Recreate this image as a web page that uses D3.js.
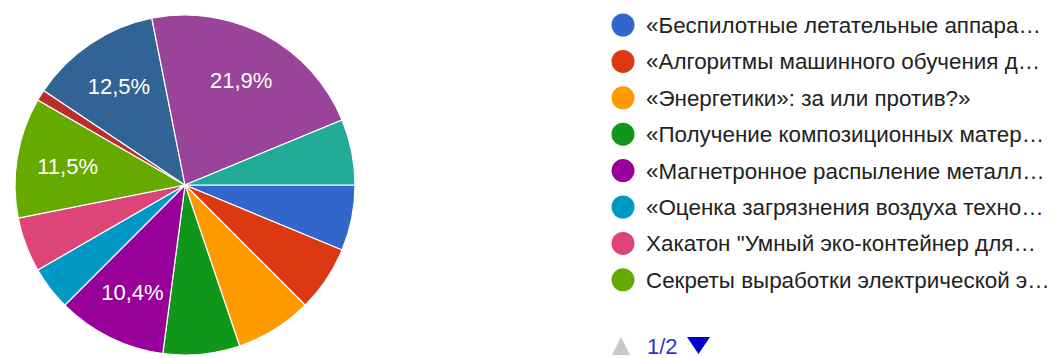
<!DOCTYPE html>
<html>
<head>
<meta charset="utf-8">
<script src="https://cdn.jsdelivr.net/npm/d3@7"></script>
<style>
  html, body { margin: 0; padding: 0; background: #fff; }
  svg { display: block; font-family: "Liberation Sans", Arial, sans-serif; }
</style>
</head>
<body>
<svg id="chart" width="1059" height="358"></svg>
<script>
// Answer options (legend page 1 shows the first eight)
const categories = [
  "«Беспилотные летательные аппара…",
  "«Алгоритмы машинного обучения д…",
  "«Энергетики»: за или против?»",
  "«Получение композиционных матер…",
  "«Магнетронное распыление металл…",
  "«Оценка загрязнения воздуха техно…",
  "Хакатон \"Умный эко-контейнер для…",
  "Секреты выработки электрической э…",
  "Вариант 9",
  "Вариант 10",
  "Вариант 11",
  "Вариант 12"
];
// Number of responses per option (96 in total)
const counts = [6, 6, 7, 7, 10, 4, 5, 11, 1, 12, 21, 6];
const colors = ["#3366cc", "#dc3912", "#ff9900", "#109618", "#990099", "#0099c6",
                "#dd4477", "#66aa00", "#b82e2e", "#316395", "#994499", "#22aa99"];
const legendPage = "1/2";
const legendPageSize = 8;

const svg = d3.select("#chart");
const cx = 185, cy = 185, radius = 170;

const total = d3.sum(counts);
const data = categories.map((c, i) => ({ name: c, value: counts[i], color: colors[i] }));

const pie = d3.pie()
  .value(d => d.value)
  .sort(null)
  .startAngle(Math.PI / 2)
  .endAngle(Math.PI / 2 + 2 * Math.PI);

const arc = d3.arc().innerRadius(0).outerRadius(radius);
const labelArc = d3.arc().innerRadius(radius * 0.7).outerRadius(radius * 0.7);

const g = svg.append("g").attr("transform", `translate(${cx},${cy})`);
const arcs = pie(data);

g.selectAll("path.slice")
  .data(arcs)
  .join("path")
  .attr("class", "slice")
  .attr("d", arc)
  .attr("fill", d => d.data.color)
  .attr("stroke", "#fff")
  .attr("stroke-width", 1.2);

const fmt = v => (Math.round(v * 1000) / 10).toFixed(1).replace(".", ",") + "%";

// Percentage labels only on slices large enough to hold them
g.selectAll("text.pct")
  .data(arcs.filter(d => d.data.value / total >= 0.1))
  .join("text")
  .attr("class", "pct")
  .attr("transform", d => `translate(${labelArc.centroid(d)})`)
  .attr("text-anchor", "middle")
  .attr("dy", "0.36em")
  .attr("fill", "#fff")
  .style("font-size", "22px")
  .text(d => fmt(d.data.value / total));

// Legend
const legend = svg.append("g").attr("transform", "translate(623,25)");
const rowH = 36.4;
const items = legend.selectAll("g.item")
  .data(data.slice(0, legendPageSize))
  .join("g")
  .attr("class", "item")
  .attr("transform", (d, i) => `translate(0,${i * rowH})`);

items.append("circle")
  .attr("r", 11.5)
  .attr("fill", d => d.color);

items.append("text")
  .attr("x", 23)
  .attr("dy", "0.36em")
  .attr("fill", "#222")
  .style("font-size", "22.4px")
  .text(d => d.name);

// Pager
const pager = svg.append("g").attr("transform", "translate(612,337)");
pager.append("path")
  .attr("d", "M0,18 L9,0 L18,18 Z")
  .attr("fill", "#c8c8c8");
pager.append("text")
  .attr("x", 35)
  .attr("y", 17)
  .attr("fill", "#3333cc")
  .style("font-size", "22px")
  .text(legendPage);
pager.append("path")
  .attr("d", "M75,0 L98,0 L86.5,17 Z")
  .attr("fill", "#0000cc");
</script>
</body>
</html>
